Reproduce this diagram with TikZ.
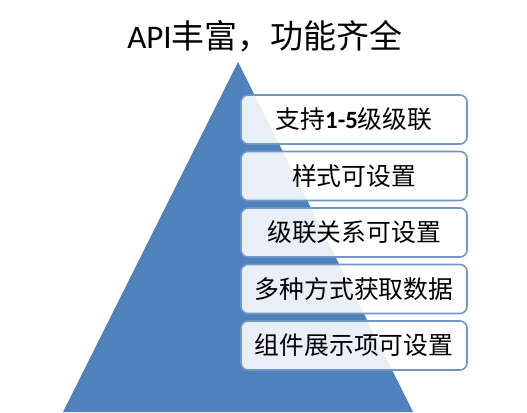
\documentclass[tikz,border=0pt]{standalone}
\usepackage{fontspec}
\setmainfont{Carlito}
\newfontfamily\cjk{Noto Sans CJK SC}
\definecolor{pyramidblue}{HTML}{4F81BD}
\definecolor{boxline}{HTML}{7397C5}
\tikzset{
  featbox/.style={draw=boxline, line width=1.6pt, rounded corners=7pt,
    fill=white, fill opacity=0.88, text opacity=1,
    minimum width=226pt, minimum height=49pt, inner sep=0pt,
    font=\fontsize{24.8}{24.8}\selectfont\cjk}
}
\begin{document}
\begin{tikzpicture}[x=1pt, y=-1pt]
  \useasboundingbox (0,0) rectangle (527,412);

  % title
  \node (title) at (265,36) {\fontsize{33}{33}\selectfont API{\cjk 丰富，功能齐全}};

  % pyramid
  \fill[pyramidblue] (238,62) -- (413,412) -- (63,412) -- cycle;

  % feature boxes
  \foreach \txt [count=\i] in {{支持{\rmfamily\bfseries 1-5}级级联},样式可设置,级联关系可设置,多种方式获取数据,组件展示项可设置} {
    \node[featbox] (feat\i) at (354,{119.5+56.5*(\i-1)}) {\txt};
  }
\end{tikzpicture}
\end{document}
